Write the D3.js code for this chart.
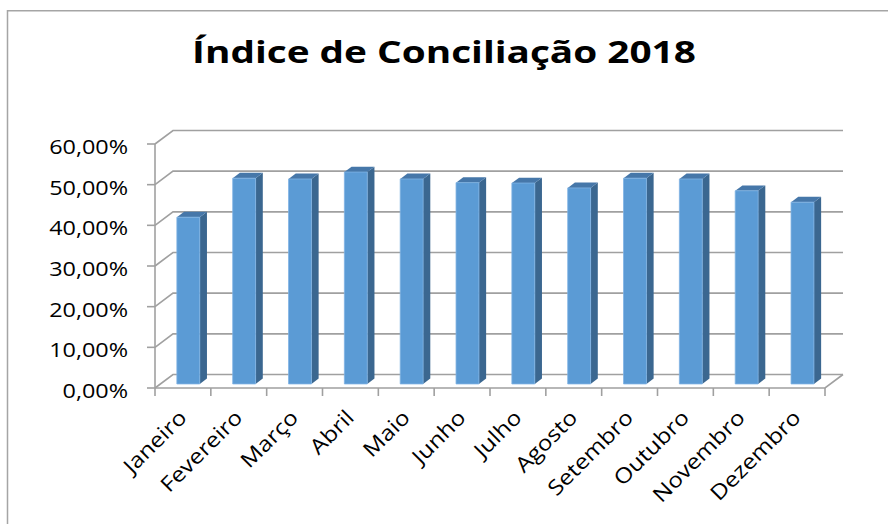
<!DOCTYPE html>
<html>
<head>
<meta charset="utf-8">
<script src="https://cdn.jsdelivr.net/npm/d3@7"></script>
<style>
  html, body { margin: 0; padding: 0; background: #fff; }
  svg { display: block; font-family: 'Open Sans', 'Noto Sans', sans-serif; }
</style>
</head>
<body>
<svg id="chart" width="888" height="524"></svg>
<script>
const title = 'Índice de Conciliação 2018';
const months = ['Janeiro', 'Fevereiro', 'Março', 'Abril', 'Maio', 'Junho',
  'Julho', 'Agosto', 'Setembro', 'Outubro', 'Novembro', 'Dezembro'];
const values = [0.41, 0.506, 0.504, 0.521, 0.504, 0.495,
  0.494, 0.482, 0.506, 0.504, 0.475, 0.447];
const yTicks = [0, 0.1, 0.2, 0.3, 0.4, 0.5, 0.6];

const state = {
  width: 888,
  height: 524,
  origin: { x: 155, y: 388 }, // front-left-bottom corner of the plot box
  plotW: 670,
  plotH: 244,
  depth: { dx: 18, dy: -13.5 },
  barWidth: 0.41,
  barZ: [0.3, 0.7],
  gridColor: '#a0a0a0',
  front: '#5b9bd5',
  side: '#3b6790',
  top: '#4677a9',
  stretch: 1.2, // the text in the original is a bit wide
};

const ptBR = d3.formatLocale({
  decimal: ',', thousands: '.', grouping: [3], currency: ['R$', ''],
});
const pct = ptBR.format('.2%');

const svg = d3.select('#chart');

const xScale = d3.scaleBand().domain(months).range([0, state.plotW]).padding(0);
const yScale = d3.scaleLinear().domain([0, 0.6]).range([0, -state.plotH]);

// oblique projection: x along the front, y up, z from front (0) to back (1)
function proj(x, y, z) {
  return [
    state.origin.x + x + z * state.depth.dx,
    state.origin.y + y + z * state.depth.dy,
  ];
}
const line = d3.line();

// outer chart frame
svg.append('path')
  .attr('d', `M7.5,${state.height} V10.75 H${state.width}`)
  .attr('fill', 'none')
  .attr('stroke', '#a5a5a5')
  .attr('stroke-width', 1.5);

svg.append('text')
  .attr('transform', `translate(${state.width / 2},63) scale(1.25,1)`)
  .attr('text-anchor', 'middle')
  .style('font-size', '31px')
  .style('font-weight', 700)
  .attr('fill', '#000')
  .text(title);

const grid = svg.append('g')
  .attr('fill', 'none')
  .attr('stroke', state.gridColor)
  .attr('stroke-width', 1.6);

// back wall gridlines + left wall diagonals
yTicks.forEach(t => {
  const y = yScale(t);
  grid.append('path').attr('d', line([proj(0, y, 0), proj(0, y, 1), proj(state.plotW, y, 1)]));
  grid.append('path').attr('d', line([[state.origin.x - 8, state.origin.y + y], proj(0, y, 0)]));
});

// left axis line and floor
grid.append('path').attr('d', line([proj(0, yScale(0.6), 0), proj(0, 0, 0)]));
grid.append('path').attr('d', line([proj(0, 0, 0), proj(state.plotW, 0, 0), proj(state.plotW, 0, 1)]));

// category ticks
d3.range(months.length + 1).forEach(i => {
  const x = i * xScale.bandwidth();
  const p = proj(x, 0, 0);
  grid.append('path').attr('d', line([p, [p[0], p[1] + 8]]));
});

// y labels
svg.append('g')
  .selectAll('text')
  .data(yTicks)
  .join('text')
  .attr('text-anchor', 'end')
  .attr('transform', d => `translate(128,${state.origin.y + yScale(d) + 10}) scale(${state.stretch},1)`)
  .style('font-size', '19.5px')
  .attr('fill', '#000')
  .text(d => pct(d));

// bars
const [z0, z1] = state.barZ;
const bars = svg.append('g')
  .selectAll('g.bar')
  .data(months.map((m, i) => ({ month: m, value: values[i] })))
  .join('g')
  .attr('class', 'bar');

bars.each(function (d) {
  const g = d3.select(this);
  const bw = xScale.bandwidth() * state.barWidth;
  const xl = xScale(d.month) + (xScale.bandwidth() - bw) / 2;
  const xr = xl + bw;
  const yv = yScale(d.value);

  g.append('path')
    .attr('d', line([proj(xr, yv, z0), proj(xr, yv, z1), proj(xr, 0, z1), proj(xr, 0, z0)]) + 'Z')
    .attr('fill', state.side);
  g.append('path')
    .attr('d', line([proj(xl, yv, z0), proj(xl, yv, z1), proj(xr, yv, z1), proj(xr, yv, z0)]) + 'Z')
    .attr('fill', state.top);
  g.append('path')
    .attr('d', line([proj(xl, yv, z0), proj(xr, yv, z0), proj(xr, 0, z0), proj(xl, 0, z0)]) + 'Z')
    .attr('fill', state.front)
    .attr('stroke', '#7fb2e3')
    .attr('stroke-width', 0.8);
});

// x labels, rotated
svg.append('g')
  .selectAll('text')
  .data(months)
  .join('text')
  .attr('text-anchor', 'end')
  .attr('transform', d => {
    const cx = state.origin.x + xScale(d) + xScale.bandwidth() / 2;
    return `translate(${cx + 5},${state.origin.y + 31}) rotate(-45) scale(1.15,1)`;
  })
  .style('font-size', '21px')
  .attr('fill', '#000')
  .text(d => d);
</script>
</body>
</html>
